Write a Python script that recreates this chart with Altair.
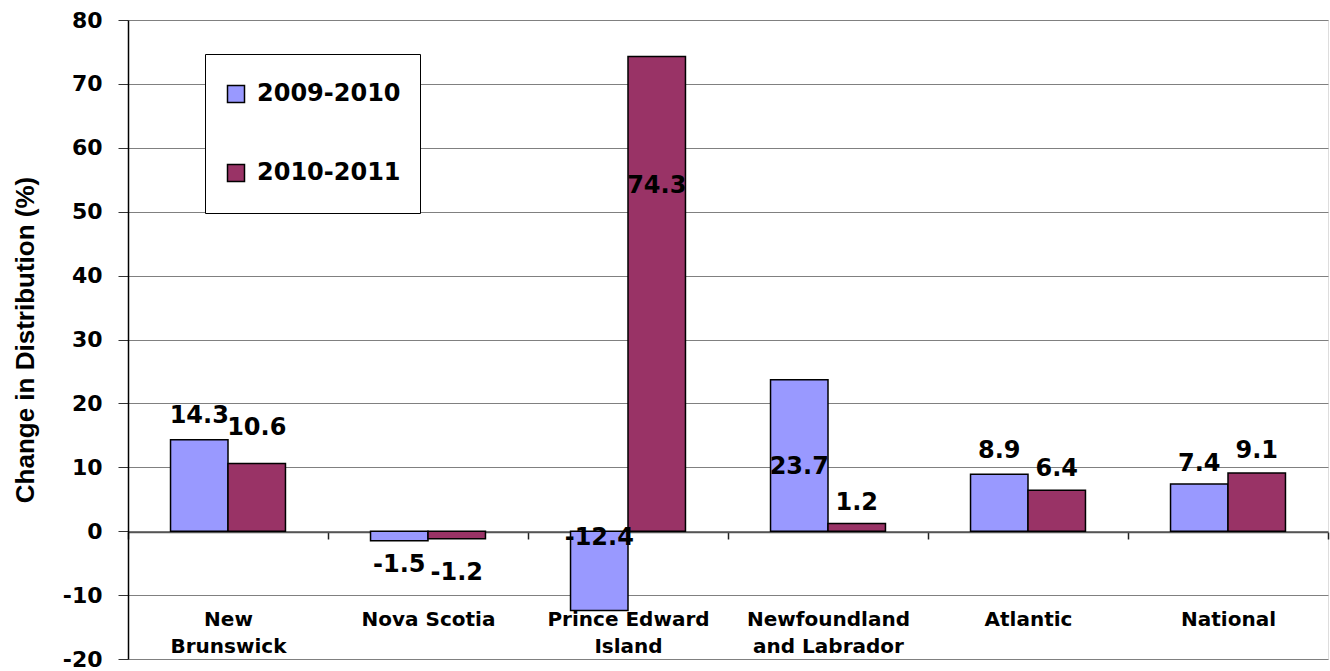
import altair as alt
import pandas as pd

regions = ["New Brunswick", "Nova Scotia", "Prince Edward Island",
           "Newfoundland and Labrador", "Atlantic", "National"]
region_lines = ["New\nBrunswick", "Nova Scotia", "Prince Edward\nIsland",
                "Newfoundland\nand Labrador", "Atlantic", "National"]
series = ["2009-2010", "2010-2011"]
v_0910 = [14.3, -1.5, -12.4, 23.7, 8.9, 7.4]
v_1011 = [10.6, -1.2, 74.3, 1.2, 6.4, 9.1]
# where each value label sits (in axis units)
lab_0910 = [18.1, -5.3, -1.1, 10.0, 12.5, 10.5]
lab_1011 = [16.1, -6.6, 54.0, 4.4, 9.8, 12.6]
y_ticks = list(range(-20, 81, 10))

rows = []
for i, r in enumerate(regions):
    rows.append({"region": region_lines[i], "series": series[0], "value": v_0910[i],
                 "txt": f"{v_0910[i]:.1f}", "lab": lab_0910[i]})
    rows.append({"region": region_lines[i], "series": series[1], "value": v_1011[i],
                 "txt": f"{v_1011[i]:.1f}", "lab": lab_1011[i]})
df = pd.DataFrame(rows)

FONT = "DejaVu Sans"
colors = ["#9999FF", "#993366"]

x_enc = alt.X("region:N", sort=region_lines, title=None,
              scale=alt.Scale(paddingInner=0, paddingOuter=0),
              axis=alt.Axis(offset=-127, domainColor="#555555", domainWidth=1.5,
                            tickColor="#222222", tickSize=7, tickWidth=1.5,
                            tickBand="extent", labelAngle=0,
                            labelExpr="split(datum.label, '\\n')",
                            labelFont=FONT, labelFontSize=20, labelFontWeight="bold",
                            labelColor="black", labelPadding=70, labelLineHeight=27,
                            labelBaseline="top"))
xo = alt.XOffset("series:N", sort=series,
                 scale=alt.Scale(paddingInner=0, paddingOuter=0.74))

y_scale = alt.Scale(domain=[-20, 80], nice=False, zero=False)

bars = alt.Chart(df).mark_bar(stroke="black", strokeWidth=1.5).encode(
    x=x_enc,
    xOffset=xo,
    y=alt.Y("value:Q", scale=y_scale,
            title="Change in Distribution (%)",
            axis=alt.Axis(values=y_ticks, grid=True, gridColor="#808080", gridWidth=1.2,
                          domainColor="black", domainWidth=1.5,
                          tickColor="#333333", tickSize=10,
                          labelExpr="toString(datum.value)",
                          labelFont=FONT, labelFontSize=22, labelFontWeight="bold",
                          labelColor="black", labelPadding=16,
                          titleFont="Liberation Sans", titleFontSize=26,
                          titleFontWeight="bold", titleColor="black", titlePadding=24)),
    color=alt.Color("series:N", sort=series,
                    scale=alt.Scale(domain=series, range=colors),
                    legend=alt.Legend(title=None, orient="none", legendX=77, legendY=34,
                                      direction="vertical",
                                      fillColor="white", strokeColor="black",
                                      padding=19, rowPadding=37, clipHeight=42,
                                      symbolType="square", symbolSize=289,
                                      symbolStrokeColor="black", symbolStrokeWidth=1.5,
                                      labelFont=FONT, labelFontSize=24, labelFontWeight="bold",
                                      labelColor="black", labelOffset=9)),
)

labels = alt.Chart(df).mark_text(font=FONT, fontSize=24, fontWeight="bold",
                                 color="black", baseline="middle", align="center").encode(
    x=alt.X("region:N", sort=region_lines),
    xOffset=xo,
    y=alt.Y("lab:Q", scale=y_scale),
    text=alt.Text("txt:N"),
)

chart = alt.layer(bars, labels).properties(
    width=1200, height=639,
    autosize=alt.AutoSizeParams(type="none"),
    padding={"left": 128, "top": 20, "right": 2, "bottom": 12},
).configure_view(stroke=None).configure(background="white")

chart.save("out.html", embed_options={"renderer": "svg", "actions": False})
